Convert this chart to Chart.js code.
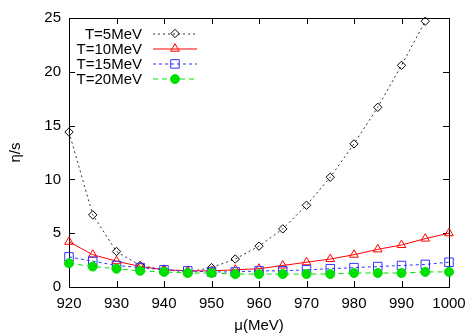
<!DOCTYPE html>
<html>
<head>
<meta charset="utf-8">
<script src="https://cdn.jsdelivr.net/npm/chart.js@4"></script>
<style>
  html, body { margin: 0; padding: 0; background: #fff; }
  #wrap { width: 476px; height: 333px; }
</style>
</head>
<body>
<div id="wrap"><canvas id="myChart"></canvas></div>
<script>
// mu en MeV, eta/s para cada temperatura
const mu = [920, 925, 930, 935, 940, 945, 950, 955, 960, 965, 970, 975, 980, 985, 990, 995, 1000]
const eta5 = [14.4, 6.7, 3.3, 2.0, 1.6, 1.4, 1.8, 2.6, 3.8, 5.4, 7.6, 10.2, 13.3, 16.7, 20.6, 24.7, null]
const eta10 = [4.2, 3.0, 2.4, 1.9, 1.6, 1.5, 1.5, 1.6, 1.7, 2.0, 2.3, 2.6, 3.0, 3.5, 3.9, 4.5, 5.0]
const eta15 = [2.8, 2.4, 2.0, 1.8, 1.6, 1.5, 1.4, 1.4, 1.5, 1.5, 1.6, 1.7, 1.8, 1.9, 2.0, 2.1, 2.3]
const eta20 = [2.2, 1.9, 1.7, 1.5, 1.4, 1.3, 1.3, 1.2, 1.2, 1.2, 1.2, 1.2, 1.3, 1.3, 1.3, 1.4, 1.4]
const labels = ['T=5MeV', 'T=10MeV', 'T=15MeV', 'T=20MeV']
const xTicks = [920, 930, 940, 950, 960, 970, 980, 990, 1000]
const yTicks = [0, 5, 10, 15, 20, 25]

const FONT = 'Liberation Sans, Arial, Helvetica, sans-serif'

const toPoints = (vals) => mu.map((m, i) => ({ x: m, y: vals[i] }))

const series = [
  { label: labels[0], data: eta5, color: '#000000', lineColor: '#333333', dash: [2, 3], style: 'rectRot', radius: 4.2, fill: 'rgba(0,0,0,0)' },
  { label: labels[1], data: eta10, color: '#ff0000', lineColor: '#ff0000', dash: [], style: 'triangle', radius: 5, fill: 'rgba(0,0,0,0)' },
  { label: labels[2], data: eta15, color: '#3333ff', lineColor: '#3333ff', dash: [3, 3], style: 'rect', radius: 6, fill: 'rgba(0,0,0,0)' },
  { label: labels[3], data: eta20, color: '#00e000', lineColor: '#00e000', dash: [5, 4], style: 'circle', radius: 4.5, fill: '#00e000' },
]

const dibujarMarca = (ctx, s, x, y) => {
  ctx.save()
  ctx.setLineDash([])
  ctx.lineWidth = 1
  ctx.strokeStyle = s.color
  ctx.fillStyle = s.fill
  ctx.beginPath()
  const r = s.radius
  if (s.style === 'rectRot') {
    ctx.moveTo(x, y - r); ctx.lineTo(x + r, y); ctx.lineTo(x, y + r); ctx.lineTo(x - r, y); ctx.closePath()
  } else if (s.style === 'triangle') {
    const h = r * Math.sqrt(3) / 2
    ctx.moveTo(x - h, y + r / 2); ctx.lineTo(x + h, y + r / 2); ctx.lineTo(x, y - r); ctx.closePath()
  } else if (s.style === 'rect') {
    const a = r * Math.SQRT1_2
    ctx.rect(x - a, y - a, 2 * a, 2 * a)
  } else {
    ctx.arc(x, y, r, 0, Math.PI * 2)
  }
  ctx.fill()
  ctx.stroke()
  ctx.restore()
}

// borde, ticks hacia dentro y leyenda estilo gnuplot
const marcoGnuplot = {
  id: 'marcoGnuplot',
  beforeDatasetsDraw(chart) {
    const { ctx, chartArea: a, scales } = chart
    ctx.save()
    ctx.strokeStyle = '#000'
    ctx.lineWidth = 1
    ctx.strokeRect(Math.round(a.left) + 0.5, Math.round(a.top) + 0.5, Math.round(a.right - a.left), Math.round(a.bottom - a.top))
    ctx.beginPath()
    const tl = 6
    xTicks.forEach(v => {
      const px = Math.round(scales.x.getPixelForValue(v)) + 0.5
      ctx.moveTo(px, a.bottom); ctx.lineTo(px, a.bottom - tl)
      ctx.moveTo(px, a.top); ctx.lineTo(px, a.top + tl)
    })
    yTicks.forEach(v => {
      const py = Math.round(scales.y.getPixelForValue(v)) + 0.5
      ctx.moveTo(a.left, py); ctx.lineTo(a.left + tl, py)
      ctx.moveTo(a.right, py); ctx.lineTo(a.right - tl, py)
    })
    ctx.stroke()
    ctx.restore()
  },
  afterDatasetsDraw(chart) {
    const { ctx, chartArea: a } = chart
    ctx.save()
    ctx.font = '15px ' + FONT
    ctx.textAlign = 'right'
    ctx.textBaseline = 'middle'
    series.forEach((s, i) => {
      const y = a.top + 15.5 + i * 15.2
      ctx.fillStyle = '#000'
      ctx.fillText(s.label, a.left + 73, y + 1)
      ctx.strokeStyle = s.lineColor
      ctx.lineWidth = 1.2
      ctx.setLineDash(s.dash)
      ctx.beginPath()
      ctx.moveTo(a.left + 84, Math.round(y))
      ctx.lineTo(a.left + 128, Math.round(y))
      ctx.stroke()
      dibujarMarca(ctx, s, a.left + 106, y)
    })
    ctx.restore()
  }
}

const ctx = document.getElementById('myChart').getContext('2d')
const myChart = new Chart(ctx, {
  type: 'line',
  data: {
    datasets: series.map((s, i) => ({
      label: s.label,
      data: toPoints(s.data),
      borderColor: s.lineColor,
      borderWidth: 1,
      borderDash: s.dash,
      pointStyle: s.style,
      pointRadius: s.radius,
      pointBorderColor: s.color,
      pointBackgroundColor: s.fill,
      pointBorderWidth: 1,
      tension: 0,
      spanGaps: false,
      clip: false,
      order: 4 - i,
    })),
  },
  options: {
    responsive: true,
    maintainAspectRatio: false,
    animation: false,
    layout: { padding: { left: 0, right: 27, top: 18, bottom: 0 } },
    plugins: {
      legend: { display: false },
      tooltip: { enabled: false },
    },
    scales: {
      x: {
        type: 'linear',
        min: 920,
        max: 1000,
        grid: { display: false, drawTicks: false },
        border: { display: false },
        afterFit: (scale) => { scale.height = 46 },
        afterBuildTicks: (scale) => { scale.ticks = xTicks.map(v => ({ value: v })) },
        ticks: { color: '#000', font: { size: 15, family: FONT }, padding: 8, maxRotation: 0, autoSkip: false, callback: (v) => String(v) },
        title: { display: true, text: 'μ(MeV)', color: '#000', font: { size: 15, family: FONT, lineHeight: 1 }, padding: { top: 0, bottom: 0 } },
      },
      y: {
        min: 0,
        max: 25,
        grid: { display: false, drawTicks: false },
        border: { display: false },
        afterFit: (scale) => { scale.width = 69 },
        afterBuildTicks: (scale) => { scale.ticks = yTicks.map(v => ({ value: v })) },
        ticks: { color: '#000', font: { size: 15, family: FONT }, padding: 8, callback: (v) => String(v) },
        title: { display: true, text: 'η/s', color: '#000', font: { size: 15, family: FONT, lineHeight: 1 }, padding: { top: 8, bottom: 0 } },
      },
    },
  },
  plugins: [marcoGnuplot],
})
</script>
</body>
</html>
